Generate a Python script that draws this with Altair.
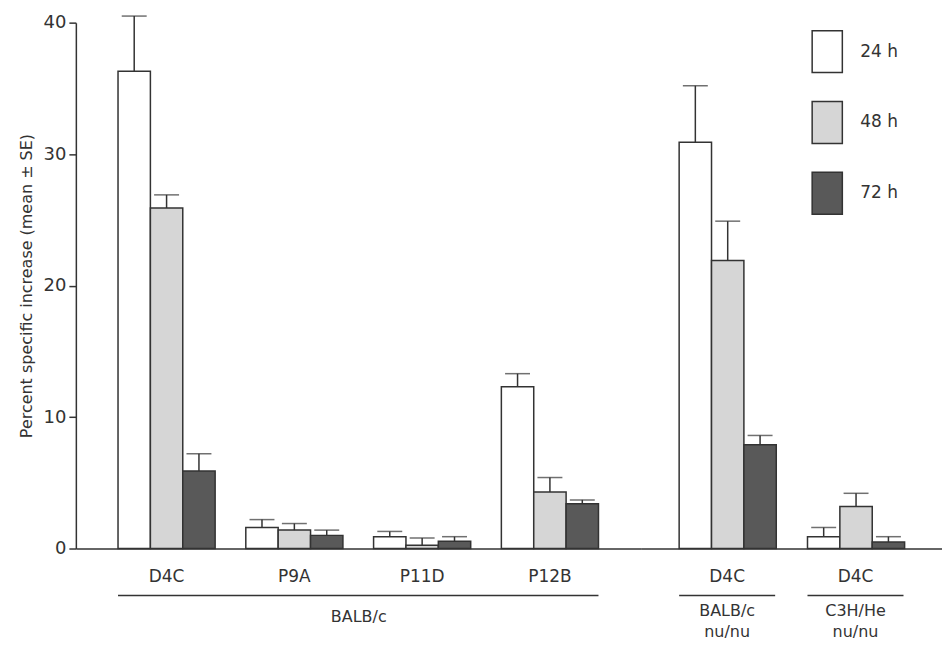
import altair as alt
import pandas as pd

# ---- data ----
groups = ["D4C", "P9A", "P11D", "P12B", "D4C", "D4C"]
strains = ["BALB/c", "BALB/c", "BALB/c", "BALB/c", "BALB/c\nnu/nu", "C3H/He\nnu/nu"]
series = ["24 h", "48 h", "72 h"]
mean_24 = [36.3, 1.6, 0.9, 12.3, 30.9, 0.9]
mean_48 = [25.9, 1.4, 0.25, 4.3, 21.9, 3.2]
mean_72 = [5.9, 1.0, 0.55, 3.4, 7.9, 0.5]
se_24 = [4.2, 0.6, 0.4, 1.0, 4.3, 0.7]
se_48 = [1.0, 0.5, 0.55, 1.1, 3.0, 1.0]
se_72 = [1.3, 0.4, 0.35, 0.3, 0.7, 0.4]
y_ticks = [0, 10, 20, 30, 40]
y_title = "Percent specific increase (mean \u00b1 SE)"

rows = []
for s, means, ses in zip(series, [mean_24, mean_48, mean_72], [se_24, se_48, se_72]):
    for g, st, m, e in zip(groups, strains, means, ses):
        rows.append({"key": g + "|" + st, "group": g, "strain": st,
                     "series": s, "mean": m, "upper": m + e})
df = pd.DataFrame(rows)

keys = [g + "|" + st for g, st in zip(groups, strains)]
left_keys = keys[:4]
right_keys = keys[4:]

INK = "#333333"
FONT = "DejaVu Sans"
H = 527

color_scale = alt.Scale(domain=series, range=["#ffffff", "#d6d6d6", "#595959"])
xoff = alt.XOffset("series:N", scale=alt.Scale(domain=series, paddingInner=0, paddingOuter=0))


def panel(domain, width, pin, pout, left):
    sub = df[df["key"].isin(domain)]
    xscale = alt.Scale(domain=domain, paddingInner=pin, paddingOuter=pout)
    xaxis = alt.Axis(
        title="BALB/c" if left else None, labelAngle=0, ticks=False,
        domainColor=INK, domainWidth=1.5, labelColor=INK, labelFont=FONT,
        labelFontSize=17, labelPadding=20, titleFont=FONT, titleFontSize=16,
        titleFontWeight="normal", titleColor=INK, titlePadding=24,
        labelExpr="split(datum.label, '|')[0]",
    )
    if left:
        yaxis = alt.Axis(
            values=y_ticks, title=y_title, grid=False, tickSize=7, tickWidth=1.5,
            tickColor=INK, domainColor=INK, domainWidth=1.5, labelColor=INK,
            labelFont=FONT, labelFontSize=18, labelPadding=3, titleFont=FONT,
            titleFontSize=16, titleFontWeight="normal", titleColor=INK,
            titlePadding=9,
        )
        legend = None
    else:
        yaxis = None
        legend = alt.Legend(
            orient="none", legendX=165, legendY=7, title=None,
            symbolType="M-0.72,-1L0.72,-1L0.72,1L-0.72,1Z", symbolSize=1764,
            symbolStrokeColor=INK, symbolStrokeWidth=1.5, labelFont=FONT,
            labelFontSize=17, labelColor=INK, rowPadding=23, labelOffset=11,
            padding=0,
        )
    yscale = alt.Scale(domain=[0, 40], nice=False)
    x = alt.X("key:N", scale=xscale, axis=xaxis, sort=domain)
    base = alt.Chart(sub)
    bars = base.mark_bar(stroke=INK, strokeWidth=1.5).encode(
        x=x, xOffset=xoff,
        y=alt.Y("mean:Q", scale=yscale, axis=yaxis),
        color=alt.Color("series:N", scale=color_scale, legend=legend),
    )
    err = base.mark_rule(color=INK, strokeWidth=1.5).encode(
        x=x, xOffset=xoff, y=alt.Y("mean:Q"), y2="upper:Q")
    cap = base.mark_tick(color=INK, thickness=1.5, size=25).encode(
        x=x, xOffset=xoff, y=alt.Y("upper:Q"))
    layers = [bars, err, cap]
    if left:
        ann = pd.DataFrame({"start": [domain[0]], "end": [domain[-1]]})
        line = alt.Chart(ann).mark_rule(color=INK, strokeWidth=1.5).encode(
            x=alt.X("start:N", scale=xscale, bandPosition=0),
            x2=alt.X2("end", bandPosition=1),
            y=alt.value(H + 47),
        )
        layers.append(line)
    else:
        ann = pd.DataFrame({"key": domain, "strain": [k.split("|")[1] for k in domain]})
        line = alt.Chart(ann).mark_rule(color=INK, strokeWidth=1.5).encode(
            x=alt.X("key:N", scale=xscale, bandPosition=0),
            x2=alt.X2("key", bandPosition=1),
            y=alt.value(H + 47),
        )
        txt = alt.Chart(ann).mark_text(
            font=FONT, fontSize=16, color=INK, baseline="top", lineBreak="\n",
            lineHeight=21,
        ).encode(
            x=alt.X("key:N", scale=xscale),
            y=alt.value(H + 55),
            text="strain:N",
        )
        layers += [line, txt]
    return alt.layer(*layers).properties(width=width, height=H)


left = panel(left_keys, 566, 0.24, 0.33, True)
right = panel(right_keys, 302, 0.252, 0.3, False)

chart = (
    alt.hconcat(left, right, spacing=0)
    .resolve_scale(x="independent", color="independent")
    .resolve_legend(color="independent")
    .properties(padding={"left": 10, "top": 5, "right": 0, "bottom": 0})
    .configure(background="white", view=alt.ViewConfig(stroke=None))
)

chart.save("out.html", embed_options={"renderer": "svg", "actions": False})
